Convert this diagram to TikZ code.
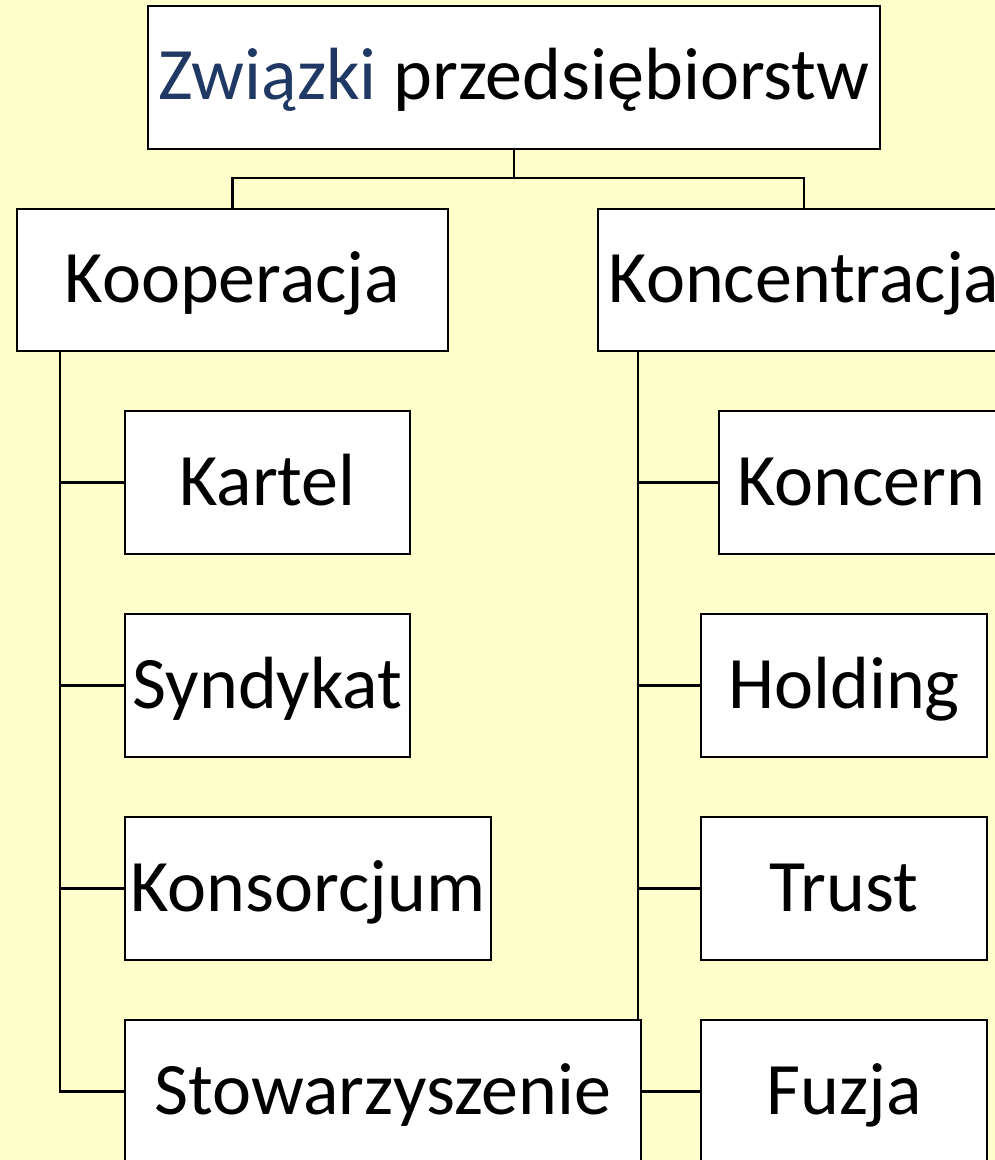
\documentclass[tikz,border=0pt]{standalone}
\usepackage{fontspec}
\setmainfont{Carlito}
\definecolor{bgyellow}{RGB}{255,255,204}
\definecolor{titleblue}{RGB}{31,56,100}
\pgfdeclarelayer{bglayer}
\pgfdeclarelayer{lines}
\pgfsetlayers{bglayer,lines,main}
\begin{document}
\begin{tikzpicture}[x=1pt,y=-1pt,
  box/.style={draw=black,line width=2.4pt,fill=white,rectangle,inner sep=0pt,
    minimum height=143pt,font=\fontsize{74}{88}\selectfont,text height=45pt,text depth=0pt},
  conn/.style={draw=black,line width=2.2pt}]
\useasboundingbox (0,0) rectangle (995,1160);
\clip (0,0) rectangle (995,1160);
\begin{pgfonlayer}{bglayer}
\fill[bgyellow] (0,0) rectangle (995,1160);
\end{pgfonlayer}
\node[box,minimum width=732pt,font=\fontsize{74}{88}\selectfont,text height=43pt] (top) at (514,77.5) {\textcolor{titleblue}{Związki} przedsiębiorstw};
\node[box,minimum width=431pt,minimum height=142pt] (koop) at (232.5,280) {Kooperacja};
\node[box,minimum width=412pt,minimum height=142pt] (konc) at (804,280) {Koncentracja};
\node[box,minimum width=285pt] (kartel) at (267.5,482.5) {Kartel};
\node[box,minimum width=285pt] (synd) at (267.5,685.5) {Syndykat};
\node[box,minimum width=366pt] (kons) at (308,888.5) {Konsorcjum};
\node[box,minimum width=516pt] (stow) at (383,1091.5) {Stowarzyszenie};
\node[box,minimum width=285pt] (koncern) at (861.5,482.5) {Koncern};
\node[box,minimum width=286pt] (hold) at (844,685.5) {Holding};
\node[box,minimum width=286pt] (trust) at (844,888.5) {Trust};
\node[box,minimum width=286pt] (fuzja) at (844,1091.5) {Fuzja};
\coordinate (j) at (514,178);
\coordinate (lt) at ([xshift=44pt]koop.south west);
\coordinate (rt) at ([xshift=41pt]konc.south west);
\begin{pgfonlayer}{lines}
\draw[conn] (top.south) -- (j) -| (koop.north);
\draw[conn] (j) -| (konc.north);
\draw[conn] (lt) |- (kartel.west);
\draw[conn] (lt) |- (synd.west);
\draw[conn] (lt) |- (kons.west);
\draw[conn] (lt) |- (stow.west);
\draw[conn] (rt) |- (koncern.west);
\draw[conn] (rt) |- (hold.west);
\draw[conn] (rt) |- (trust.west);
\draw[conn] (rt) |- (fuzja.west);
\end{pgfonlayer}
\end{tikzpicture}
\end{document}
